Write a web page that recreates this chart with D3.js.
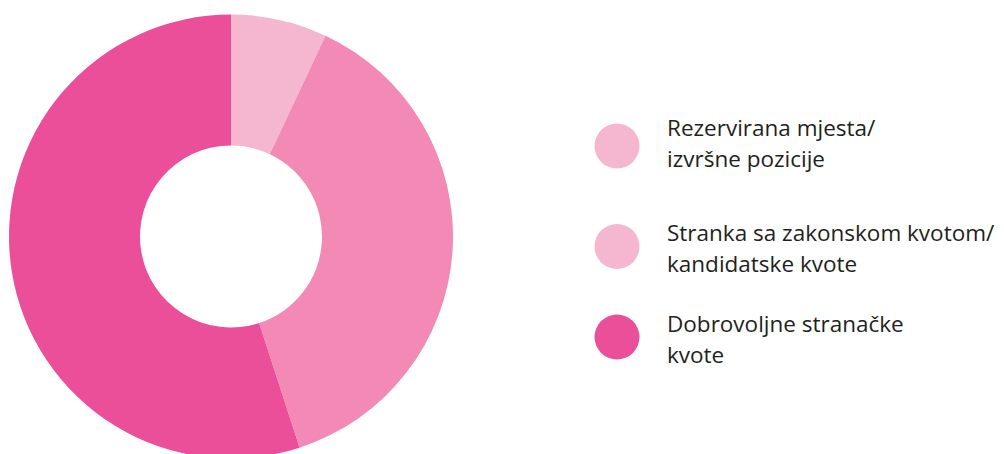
<!DOCTYPE html>
<html lang="hr">
<head>
<meta charset="utf-8">
<script src="https://cdn.jsdelivr.net/npm/d3@7"></script>
<style>
  body { margin: 0; background: #ffffff; }
  .legendText { font-family: "Open Sans", sans-serif; font-size: 22.5px; fill: #231f20; }
</style>
</head>
<body>
<div id="chart"></div>
<script>
// data
var categories = ["Rezervirana mjesta/izvršne pozicije", "Stranka sa zakonskom kvotom/kandidatske kvote", "Dobrovoljne stranačke kvote"];
var shares = [7, 38, 55];
var sliceColors = ["#f5b7d0", "#f28ab5", "#ec4f9a"];
var legendColors = ["#f5b7d0", "#f5b7d0", "#ec4f9a"];
var legendLines = [["Rezervirana mjesta/", "izvršne pozicije"],
                   ["Stranka sa zakonskom kvotom/", "kandidatske kvote"],
                   ["Dobrovoljne stranačke", "kvote"]];

var width = 1004, height = 454;
var cx = 231, cy = 236.5, outerR = 222, innerR = 91;

var svg = d3.select("#chart").append("svg")
  .attr("width", width)
  .attr("height", height);

var pie = d3.pie().sort(null).value(function(d) { return d; });
var arc = d3.arc().innerRadius(innerR).outerRadius(outerR);

svg.append("g")
  .attr("transform", "translate(" + cx + "," + cy + ")")
  .selectAll("path")
  .data(pie(shares))
  .enter().append("path")
  .attr("d", arc)
  .attr("fill", function(d, i) { return sliceColors[i]; });

// legend (rows not evenly spaced in the original)
var legendX = 617, textX = 667;
var dotY = [146, 246.5, 337];
var textY = [136, 240.5, 332];

var rows = svg.selectAll(".legendRow")
  .data(categories)
  .enter().append("g")
  .attr("class", "legendRow");

rows.append("circle")
  .attr("cx", legendX)
  .attr("cy", function(d, i) { return dotY[i]; })
  .attr("r", 22.5)
  .attr("fill", function(d, i) { return legendColors[i]; });

rows.append("text")
  .attr("class", "legendText")
  .attr("x", textX)
  .attr("y", function(d, i) { return textY[i]; })
  .selectAll("tspan")
  .data(function(d, i) { return legendLines[i]; })
  .enter().append("tspan")
  .attr("x", textX)
  .attr("dy", function(d, j) { return j === 0 ? 0 : 31; })
  .text(function(d) { return d; });
</script>
</body>
</html>
